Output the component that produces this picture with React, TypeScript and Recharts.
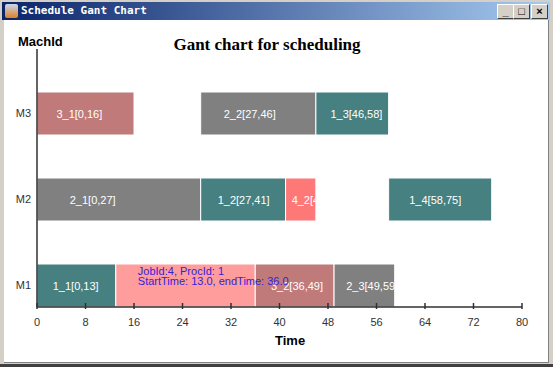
import React from "react";
import { BarChart, Bar, XAxis, YAxis } from "recharts";

type Op = [string, number, number];

const machines = ["M3", "M2", "M1"];
const opsM3: Op[] = [["3_1", 0, 16], ["2_2", 27, 46], ["1_3", 46, 58]];
const opsM2: Op[] = [["2_1", 0, 27], ["1_2", 27, 41], ["4_2", 41, 46], ["1_4", 58, 75]];
const opsM1: Op[] = [["1_1", 0, 13], ["4_1", 13, 36], ["3_2", 36, 49], ["2_3", 49, 59]];
const timeTicks = [0, 8, 16, 24, 32, 40, 48, 56, 64, 72, 80];

const jobColors: Record<string, string> = {
  "1": "#478080",
  "2": "#808080",
  "3": "#c07a7a",
  "4": "#ff7878",
};
const hoverOp = "4_1";
const hoverColor = "#ff9c9c";
const tooltipLines = ["JobId:4, ProcId: 1", "StartTime: 13.0,  endTime: 36.0"];

const schedule: Record<string, Op[]> = { M3: opsM3, M2: opsM2, M1: opsM1 };
// every machine row sits under an empty spacer row
const rows = machines.flatMap((m) => [
  { key: "_" + m, ops: [] as Op[] },
  { key: m, ops: schedule[m] },
]);
// one bar series per slot, each on its own (hidden) y axis so they overlap
const slots = [0, 1, 2, 3];

const FONT = "'Liberation Sans', Arial, sans-serif";

function OpShape(props: any) {
  const { x, y, width, height, payload, slot } = props;
  const op: Op | undefined = payload?.ops?.[slot];
  if (!op || !(width > 0)) return null;
  const [name, s, e] = op;
  const fill = name === hoverOp ? hoverColor : jobColors[name.split("_")[0]];
  const id = `clip-${name}`;
  return (
    <g>
      <defs>
        <clipPath id={id}>
          <rect x={x} y={y} width={width} height={height} />
        </clipPath>
      </defs>
      <rect x={x} y={y} width={width} height={height} fill={fill} stroke="#fff" strokeWidth={1} />
      {name !== hoverOp && (
        <text
          x={x + width * 0.2}
          y={y + height / 2 + 4}
          fill="#fff"
          fontSize={11}
          fontFamily={FONT}
          clipPath={`url(#${id})`}
        >
          {`${name}[${s},${e}]`}
        </text>
      )}
    </g>
  );
}

// hover tooltip drawn last, over the bars
function TipShape(props: any) {
  const { x, y, width } = props;
  if (!(width > 0)) return null;
  return (
    <text fill="#3322dd" fontSize={11} fontFamily={FONT}>
      {tooltipLines.map((t, i) => (
        <tspan key={i} x={x + 22} y={y + 11 + i * 10}>{t}</tspan>
      ))}
    </text>
  );
}

function hoverRange(r: any) {
  const op = r.ops.find((o: Op) => o[0] === hoverOp);
  return op ? [op[1], op[2]] : null;
}

function TimeTick(props: any) {
  const { x, y, payload } = props;
  return (
    <g>
      <line x1={x} x2={x} y1={y - 6} y2={y} stroke="#303030" strokeWidth={1.5} />
      <text x={x} y={y + 17} textAnchor="middle" fill="#333" fontSize={11} fontFamily={FONT}>
        {payload.value}
      </text>
    </g>
  );
}

function Chart() {
  return (
    <BarChart
      width={553}
      height={367}
      data={rows}
      layout="vertical"
      margin={{ top: 49, right: 31, bottom: 30, left: 7 }}
      barCategoryGap={0}
      barGap={0}
    >
      {slots.map((k) => (
        <Bar
          key={k}
          yAxisId={k}
          dataKey={(r: any) => (r.ops[k] ? [r.ops[k][1], r.ops[k][2]] : null)}
          shape={(p: any) => <OpShape {...p} slot={k} />}
          isAnimationActive={false}
        />
      ))}
      <Bar
        yAxisId="tip"
        dataKey={hoverRange}
        shape={(p: any) => <TipShape {...p} />}
        isAnimationActive={false}
      />
      {slots.slice(1).map((k) => (
        <YAxis key={k} yAxisId={k} type="category" dataKey="key" hide />
      ))}
      <YAxis yAxisId="tip" type="category" dataKey="key" hide />
      <XAxis
        type="number"
        domain={[0, 80]}
        ticks={timeTicks}
        height={30}
        tickSize={0}
        tickLine={false}
        axisLine={{ stroke: "#303030", strokeWidth: 1.5 }}
        tick={<TimeTick />}
        interval={0}
      />
      <YAxis
        yAxisId={0}
        type="category"
        dataKey="key"
        width={30}
        tickSize={0}
        tickMargin={6}
        tickLine={false}
        interval={0}
        axisLine={{ stroke: "#303030", strokeWidth: 1.5 }}
        tick={{ fill: "#333", fontSize: 11, fontFamily: FONT }}
        tickFormatter={(v: string) => (v.startsWith("_") ? "" : v)}
      />
    </BarChart>
  );
}

const btn: React.CSSProperties = {
  position: "absolute",
  top: 4,
  width: 15,
  height: 13,
  background: "#d4d0c8",
  borderTop: "1px solid #fff",
  borderLeft: "1px solid #fff",
  borderRight: "1px solid #404040",
  borderBottom: "1px solid #404040",
  fontFamily: FONT,
  fontSize: 11,
  fontWeight: "bold",
  lineHeight: "13px",
  textAlign: "center",
  color: "#000",
};

export default function App() {
  return (
    <div
      style={{
        position: "fixed",
        left: 0,
        top: 0,
        width: 553,
        height: 367,
        background: "#d4d0c8",
        overflow: "hidden",
      }}
    >
      <div
        style={{
          position: "absolute",
          left: 2,
          top: 2,
          width: 548,
          height: 18,
          background: "linear-gradient(to right, #0a246a, #a6caf0)",
        }}
      />
      <div
        style={{
          position: "absolute",
          left: 5,
          top: 4,
          width: 13,
          height: 14,
          background: "linear-gradient(#c8d8f0, #e08020)",
          borderRadius: 2,
        }}
      />
      <div
        style={{
          position: "absolute",
          left: 21,
          top: 4,
          color: "#fff",
          fontFamily: "'DejaVu Sans Mono', monospace",
          fontWeight: "bold",
          fontSize: 11,
          lineHeight: "14px",
        }}
      >
        Schedule Gant Chart
      </div>
      <div style={{ ...btn, left: 497 }}>_</div>
      <div style={{ ...btn, left: 513 }}>□</div>
      <div style={{ ...btn, left: 531 }}>×</div>
      <div
        style={{
          position: "absolute",
          left: 4,
          top: 20,
          width: 544,
          height: 342,
          background: "#fff",
          borderRight: "1px solid #808080",
          borderBottom: "1px solid #808080",
        }}
      />
      <div style={{ position: "absolute", left: 0, top: 364, width: 553, height: 3, background: "#404040" }} />
      <div style={{ position: "absolute", left: 0, top: 0 }}>
        <Chart />
      </div>
      <div
        style={{
          position: "absolute",
          left: 18,
          top: 34,
          fontFamily: FONT,
          fontWeight: "bold",
          fontSize: 13,
          color: "#000",
        }}
      >
        MachId
      </div>
      <div
        style={{
          position: "absolute",
          left: 0,
          width: 534,
          top: 35,
          textAlign: "center",
          fontFamily: "'Liberation Serif', 'Times New Roman', serif",
          fontWeight: "bold",
          fontSize: 17,
          color: "#000",
        }}
      >
        Gant chart for scheduling
      </div>
      <div
        style={{
          position: "absolute",
          left: 275,
          top: 333,
          fontFamily: FONT,
          fontWeight: "bold",
          fontSize: 13,
          color: "#000",
        }}
      >
        Time
      </div>
    </div>
  );
}
